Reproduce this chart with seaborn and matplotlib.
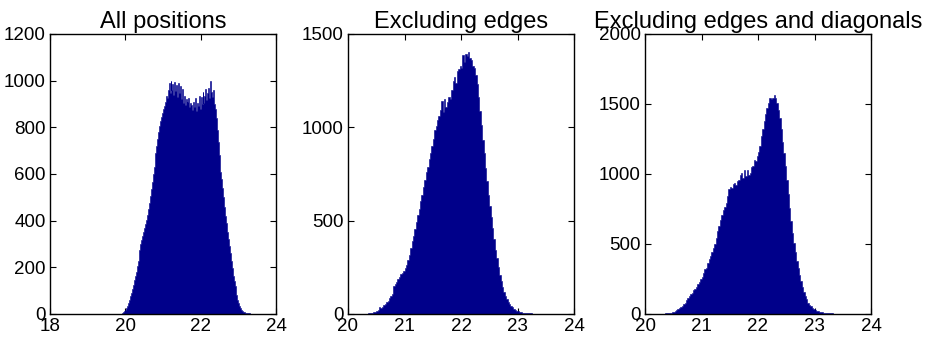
import numpy as np
import pandas as pd
import matplotlib
matplotlib.use("Agg")
import matplotlib.pyplot as plt
import seaborn as sns

# Histogram counts, bin width 0.025, first bin starting at the given left edge
bin_width = 0.025

all_start = 19.75
all_counts = [
    0, 0, 1, 1, 2, 2, 3, 5, 8, 13,
    18, 26, 36, 48, 62, 76, 92, 108, 126, 144,
    163, 182, 205, 228, 252, 276, 298, 318, 333, 350,
    368, 385, 404, 425, 448, 474, 505, 535, 565, 598,
    628, 660, 690, 722, 752, 780, 805, 826, 845, 862,
    878, 892, 910, 935, 925, 962, 990, 948, 1000, 960,
    985, 940, 995, 955, 980, 930, 990, 945, 975, 920,
    965, 905, 935, 895, 920, 890, 910, 925, 888, 905,
    895, 875, 910, 885, 925, 870, 905, 890, 935, 880,
    930, 900, 950, 905, 935, 965, 915, 945, 970, 925,
    1000, 950, 930, 960, 900, 880, 840, 790, 735, 680,
    650, 610, 580, 540, 500, 460, 420, 390, 350, 320,
    290, 260, 225, 195, 165, 140, 120, 100, 80, 62,
    48, 36, 26, 18, 13, 10, 8, 6, 5, 4,
    3, 3, 2, 2, 1, 1, 1, 1, 0, 0,
]

edges_start = 20.25
edges_counts = [
    0, 1, 1, 2, 3, 4, 6, 8, 10, 12,
    16, 22, 35, 30, 40, 46, 54, 62, 72, 86,
    98, 108, 150, 160, 170, 185, 198, 212, 220, 232,
    245, 262, 288, 318, 355, 390, 420, 458, 495, 530,
    565, 605, 640, 680, 720, 760, 790, 830, 865, 900,
    940, 985, 1005, 1040, 1060, 1095, 1140, 1080, 1150, 1110,
    1135, 1160, 1150, 1200, 1250, 1270, 1240, 1300, 1310, 1330,
    1320, 1390, 1350, 1395, 1380, 1405, 1370, 1360, 1330, 1320,
    1280, 1230, 1160, 1090, 1010, 930, 860, 780, 710, 640,
    580, 520, 460, 400, 345, 300, 250, 210, 175, 145,
    118, 95, 78, 64, 52, 44, 36, 29, 23, 18,
    14, 11, 9, 7, 6, 5, 4, 4, 3, 3,
    2, 2, 2, 1, 1, 1, 1, 0,
]

diag_start = 20.15
diag_counts = [
    0, 1, 1, 1, 2, 2, 3, 3, 4, 5,
    6, 8, 10, 13, 17, 22, 28, 35, 42, 50,
    58, 68, 82, 98, 112, 126, 140, 152, 168, 182,
    196, 212, 232, 248, 262, 290, 318, 332, 365, 395,
    412, 440, 470, 500, 540, 590, 630, 670, 710, 740,
    765, 790, 840, 895, 910, 900, 925, 935, 920, 950,
    960, 990, 1010, 970, 1025, 985, 1030, 995, 1010, 1050,
    1060, 1100, 1090, 1130, 1160, 1200, 1270, 1320, 1380, 1430,
    1470, 1510, 1540, 1535, 1545, 1565, 1540, 1510, 1460, 1400,
    1320, 1230, 1150, 1060, 960, 860, 760, 665, 580, 510,
    440, 380, 330, 280, 235, 195, 160, 130, 105, 82,
    66, 55, 45, 36, 30, 25, 21, 17, 14, 12,
    10, 9, 8, 7, 6, 5, 4, 3, 3, 2, 2, 1,
]

titles = ["All positions", "Excluding edges", "Excluding edges and diagonals"]
xlims = [(18, 24), (20, 24), (20, 24)]
xticks = [[18, 20, 22, 24], [20, 21, 22, 23, 24], [20, 21, 22, 23, 24]]
ylims = [(0, 1200), (0, 1500), (0, 2000)]
yticks = [list(range(0, 1201, 200)), [0, 500, 1000, 1500], [0, 500, 1000, 1500, 2000]]

series = [(all_start, all_counts), (edges_start, edges_counts), (diag_start, diag_counts)]

sns.set_style("ticks")
plt.rcParams["font.family"] = ["Liberation Sans", "DejaVu Sans"]
plt.rcParams["text.color"] = "black"
plt.rcParams["axes.labelcolor"] = "black"
plt.rcParams["xtick.color"] = "black"
plt.rcParams["ytick.color"] = "black"

fig = plt.figure(figsize=(9.31, 3.41), dpi=100)
lefts = [50 / 931, 348 / 931, 645 / 931]
width = 226 / 931
bottom = 27 / 341
height = 280 / 341

bar_color = "#00008A"

for i, (start, counts) in enumerate(series):
    ax = fig.add_axes([lefts[i], bottom, width, height])
    counts = np.asarray(counts, dtype=float)
    n = len(counts)
    bin_edges = [float(v) for v in start + bin_width * np.arange(n + 1)]
    centers = [0.5 * (a + b) for a, b in zip(bin_edges[:-1], bin_edges[1:])]
    df = pd.DataFrame({"value": centers, "count": counts})
    sns.histplot(data=df, x="value", weights="count", bins=bin_edges,
                 element="step", fill=True, color=bar_color, alpha=1.0,
                 edgecolor=bar_color, linewidth=0.4, ax=ax)
    ax.set_xlim(*xlims[i])
    ax.set_ylim(*ylims[i])
    ax.set_xticks(xticks[i])
    ax.set_yticks(yticks[i])
    ax.set_xlabel("")
    ax.set_ylabel("")
    ax.set_title(titles[i], fontsize=17, pad=4, color="black")
    ax.tick_params(direction="in", top=True, right=True, length=4, width=0.8,
                   labelsize=13.5, pad=3, colors="black")
    for sp in ax.spines.values():
        sp.set_visible(True)
        sp.set_color("black")
        sp.set_linewidth(1.0)

fig.savefig("out.png", dpi=100)
